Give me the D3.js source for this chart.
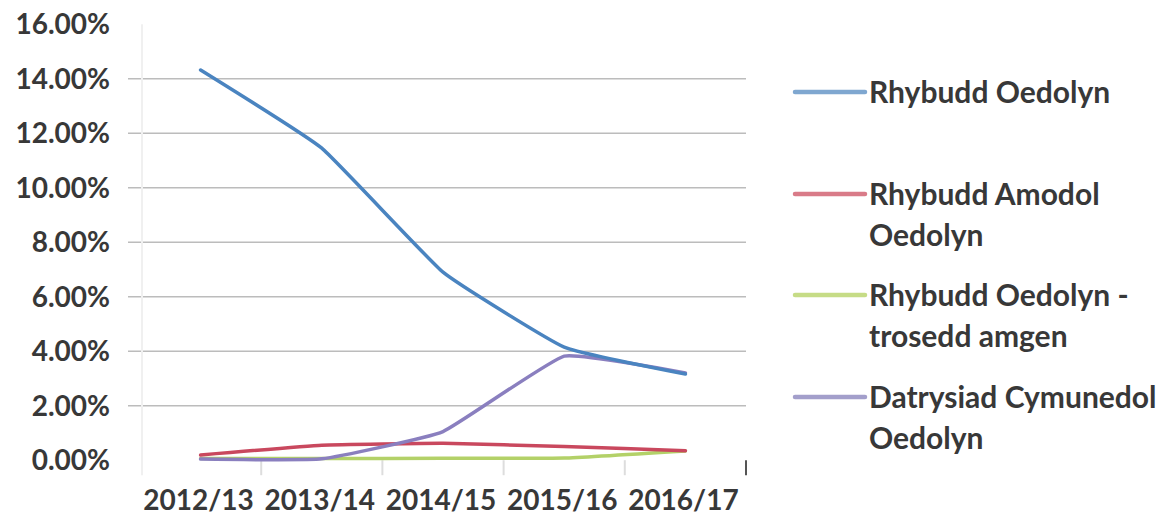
<!DOCTYPE html>
<html>
<head>
<meta charset="utf-8">
<script src="https://cdn.jsdelivr.net/npm/d3@7"></script>
<style>
  body { margin: 0; background: #fff; }
  text { font-family: Lato, "Open Sans", sans-serif; font-weight: 700; fill: #383838; }
</style>
</head>
<body>
<svg id="chart" width="1169" height="520"></svg>
<script>
const categories = ["2012/13", "2013/14", "2014/15", "2015/16", "2016/17"];
const yTicks = [0, 2, 4, 6, 8, 10, 12, 14, 16];
const seriesNames = [
  ["Rhybudd Oedolyn"],
  ["Rhybudd Amodol", "Oedolyn"],
  ["Rhybudd Oedolyn -", "trosedd amgen"],
  ["Datrysiad Cymunedol", "Oedolyn"]
];
const rhybuddOedolyn = [14.32, 11.45, 6.9, 4.15, 3.16];
const rhybuddAmodol = [0.19, 0.55, 0.62, 0.5, 0.35];
const troseddAmgen = [0.06, 0.06, 0.07, 0.08, 0.34];
const datrysiad = [0.04, 0.05, 1.05, 3.82, 3.2];
const seriesValues = [rhybuddOedolyn, rhybuddAmodol, troseddAmgen, datrysiad];
const colors = ["#4a84c0", "#c9485e", "#b3d168", "#8a7fbf"];
const legendColors = ["#7fa7d0", "#d97b88", "#c6dc86", "#a39fcb"];

const svg = d3.select("#chart");
const x = d3.scaleBand().domain(categories).range([140, 746]);
const y = d3.scaleLinear().domain([0, 16]).range([460.2, 24.2]);

// gridlines
svg.append("g").selectAll("line").data(yTicks.filter(d => d > 0 && d < 16)).join("line")
  .attr("x1", 128).attr("x2", 746)
  .attr("y1", d => y(d)).attr("y2", d => y(d))
  .attr("stroke", "#bcbcbc").attr("stroke-width", 1.5);

// faint vertical axis
svg.append("line").attr("x1", 142).attr("x2", 142).attr("y1", y(16)).attr("y2", y(0) + 15)
  .attr("stroke", "#f0f0f0").attr("stroke-width", 2);

// y labels
svg.append("g").selectAll("text").data(yTicks).join("text")
  .attr("x", 110).attr("y", d => y(d)).attr("dy", "0.36em")
  .attr("text-anchor", "end").attr("font-size", 28)
  .text(d => d3.format(".2f")(d) + "%");

// x ticks at band boundaries
const bounds = categories.slice(1).map(c => x(c)).concat([x.range()[1]]);
svg.append("g").selectAll("line").data(bounds).join("line")
  .attr("x1", d => d).attr("x2", d => d)
  .attr("y1", y(0)).attr("y2", y(0) + 15)
  .attr("stroke", (d, i) => i === bounds.length - 1 ? "#555" : "#ddd").attr("stroke-width", 2);

// x labels
svg.append("g").selectAll("text").data(categories).join("text")
  .attr("x", d => x(d) + x.bandwidth() / 2 - 2).attr("y", 510)
  .attr("text-anchor", "middle").attr("font-size", 28)
  .text(d => d);

// lines
const line = d3.line()
  .x((d, i) => x(categories[i]) + x.bandwidth() / 2)
  .y(d => y(d))
  .curve(d3.curveCardinal.tension(0.65));
const order = [2, 1, 3, 0];
order.forEach(k => {
  svg.append("path").datum(seriesValues[k])
    .attr("d", line).attr("fill", "none")
    .attr("stroke", colors[k]).attr("stroke-width", 3.5)
    .attr("stroke-linejoin", "round").attr("stroke-linecap", "round");
});

// legend
const legendY = [92, 194, 295, 397];
const lg = svg.append("g");
seriesNames.forEach((lines, i) => {
  lg.append("line").attr("x1", 795).attr("x2", 865)
    .attr("y1", legendY[i]).attr("y2", legendY[i])
    .attr("stroke", legendColors[i]).attr("stroke-width", 4.5)
    .attr("stroke-linecap", "round");
  const t = lg.append("text").attr("x", 869).attr("y", legendY[i]).attr("font-size", 30);
  lines.forEach((s, j) => {
    t.append("tspan").attr("x", 869).attr("dy", j === 0 ? "0.36em" : 41).text(s);
  });
});
</script>
</body>
</html>
